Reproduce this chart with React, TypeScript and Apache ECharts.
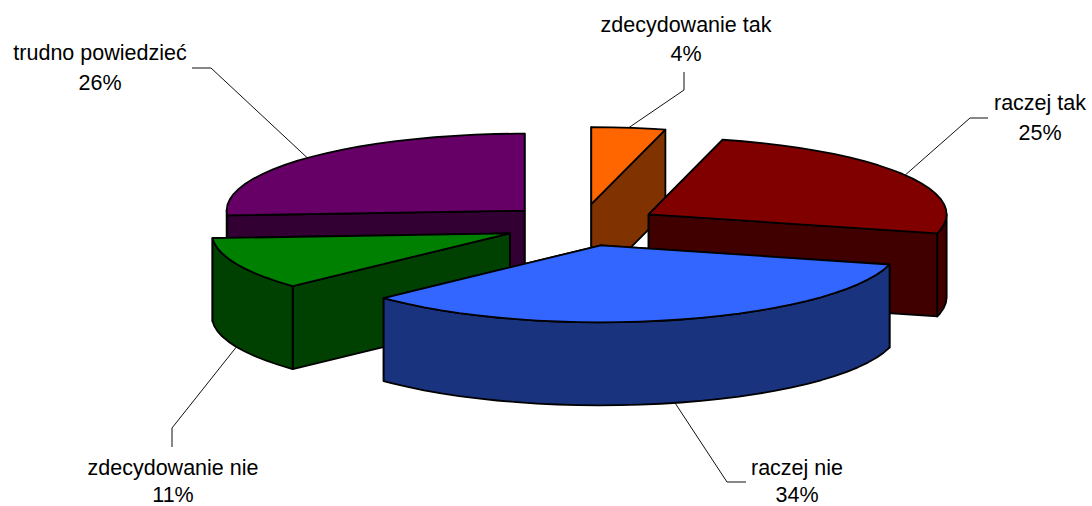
import React, { useEffect, useRef } from "react";
import * as echarts from "echarts";

// Survey answers, clockwise from twelve o'clock
const answers = ["zdecydowanie tak", "raczej tak", "raczej nie", "zdecydowanie nie", "trudno powiedzieć"];
const shares = [4, 25, 34, 11, 26];
const topColors = ["#FF6600", "#800000", "#3366FF", "#008000", "#660066"];
const wallColors = ["#803300", "#400000", "#1A337F", "#004000", "#330033"];
// Painter's order: the slices at the back come first
const paintOrder = [4, 0, 1, 3, 2];

// Projected pie geometry
const CX = 581.5;
const CY = 225;
const RX = 298;
const RY = 77;
const DEPTH = 83;
const EXPLODE_X = 78;
const EXPLODE_Y = 21;
const STEP = Math.PI / 45;
const FONT_SIZE = 21.5;

// Baselines of the two label lines and the elbow / end of each leader line
const labelLayout = [
  { x: 686, y: [25, 54], elbow: [684, 90], end: [684, 72] },
  { x: 1040, y: [103, 133], elbow: [970, 118], end: [988, 118] },
  { x: 797, y: [468, 495], elbow: [727, 482], end: [746, 482] },
  { x: 173, y: [468, 495], elbow: [172, 428], end: [172, 447] },
  { x: 100, y: [53, 83], elbow: [211, 68], end: [192, 68] },
];

const total = shares.reduce((a, b) => a + b, 0);
const seriesData = shares.map((v, i) => [i, v]);

function renderSlice(_params: any, api: any) {
  const i = api.value(0) as number;
  const value = api.value(1) as number;
  const before = shares.slice(0, i).reduce((a, b) => a + b, 0);
  const a0 = (before / total) * Math.PI * 2;
  const a1 = ((before + value) / total) * Math.PI * 2;
  const mid = (a0 + a1) / 2;
  const ox = CX + EXPLODE_X * Math.sin(mid);
  const oy = CY - EXPLODE_Y * Math.cos(mid);
  const rim = (a: number): number[] => [ox + RX * Math.sin(a), oy - RY * Math.cos(a)];
  const down = (p: number[]): number[] => [p[0], p[1] + DEPTH];
  const arc = (from: number, to: number): number[][] => {
    const pts: number[][] = [];
    for (let a = from; a < to; a += STEP) pts.push(rim(a));
    pts.push(rim(to));
    return pts;
  };

  const rank = paintOrder.indexOf(i);
  const outline = { stroke: "#000", lineWidth: 1.8, lineJoin: "round" };
  const children: any[] = [];
  const apex = [ox, oy];
  const face = (edge: number[], z: number) => ({
    type: "polygon",
    z2: rank * 10 + z,
    shape: { points: [apex, edge, down(edge), down(apex)] },
    style: { fill: wallColors[i], ...outline },
  });

  // Radial cut faces, the one further back first
  const edges = [rim(a0), rim(a1)].sort((p, q) => p[1] - q[1]);
  children.push(face(edges[0], 0), face(edges[1], 1));

  // Outer wall, only along the near half of the rim
  const w0 = Math.max(a0, Math.PI / 2);
  const w1 = Math.min(a1, (Math.PI * 3) / 2);
  if (w1 > w0) {
    const front = arc(w0, w1);
    children.push({
      type: "polygon",
      z2: rank * 10 + 2,
      shape: { points: [...front, ...front.map(down).reverse()] },
      style: { fill: wallColors[i], ...outline },
    });
  }

  // Top face
  children.push({
    type: "polygon",
    z2: rank * 10 + 3,
    shape: { points: [apex, ...arc(a0, a1)] },
    style: { fill: topColors[i], ...outline },
  });

  // Leader line and the two label lines
  const layout = labelLayout[i];
  const anchor = rim(mid);
  if (Math.cos(mid) < 0) anchor[1] += DEPTH;
  children.push({
    type: "polyline",
    z2: 100,
    shape: { points: [anchor, layout.elbow, layout.end] },
    style: { fill: "none", stroke: "#111", lineWidth: 1 },
  });
  [answers[i], `${value}%`].forEach((text, line) => {
    children.push({
      type: "text",
      z2: 101,
      style: {
        x: layout.x,
        y: layout.y[line],
        text,
        align: "center",
        verticalAlign: "middle",
        fontFamily: "Liberation Sans",
        fontSize: FONT_SIZE,
        lineHeight: FONT_SIZE,
        fill: "#000",
      },
    });
  });
  return { type: "group", children };
}

export default function App() {
  const ref = useRef<HTMLDivElement>(null);
  useEffect(() => {
    const chart = echarts.init(ref.current!, undefined, { renderer: "svg" });
    chart.setOption({
      animation: false,
      backgroundColor: "#fff",
      series: [
        {
          type: "custom",
          coordinateSystem: "none",
          silent: true,
          clip: false,
          data: seriesData,
          renderItem: renderSlice,
        },
      ],
    });
    return () => chart.dispose();
  }, []);
  return <div ref={ref} style={{ position: "absolute", left: 0, top: 0, width: 1092, height: 506 }} />;
}
